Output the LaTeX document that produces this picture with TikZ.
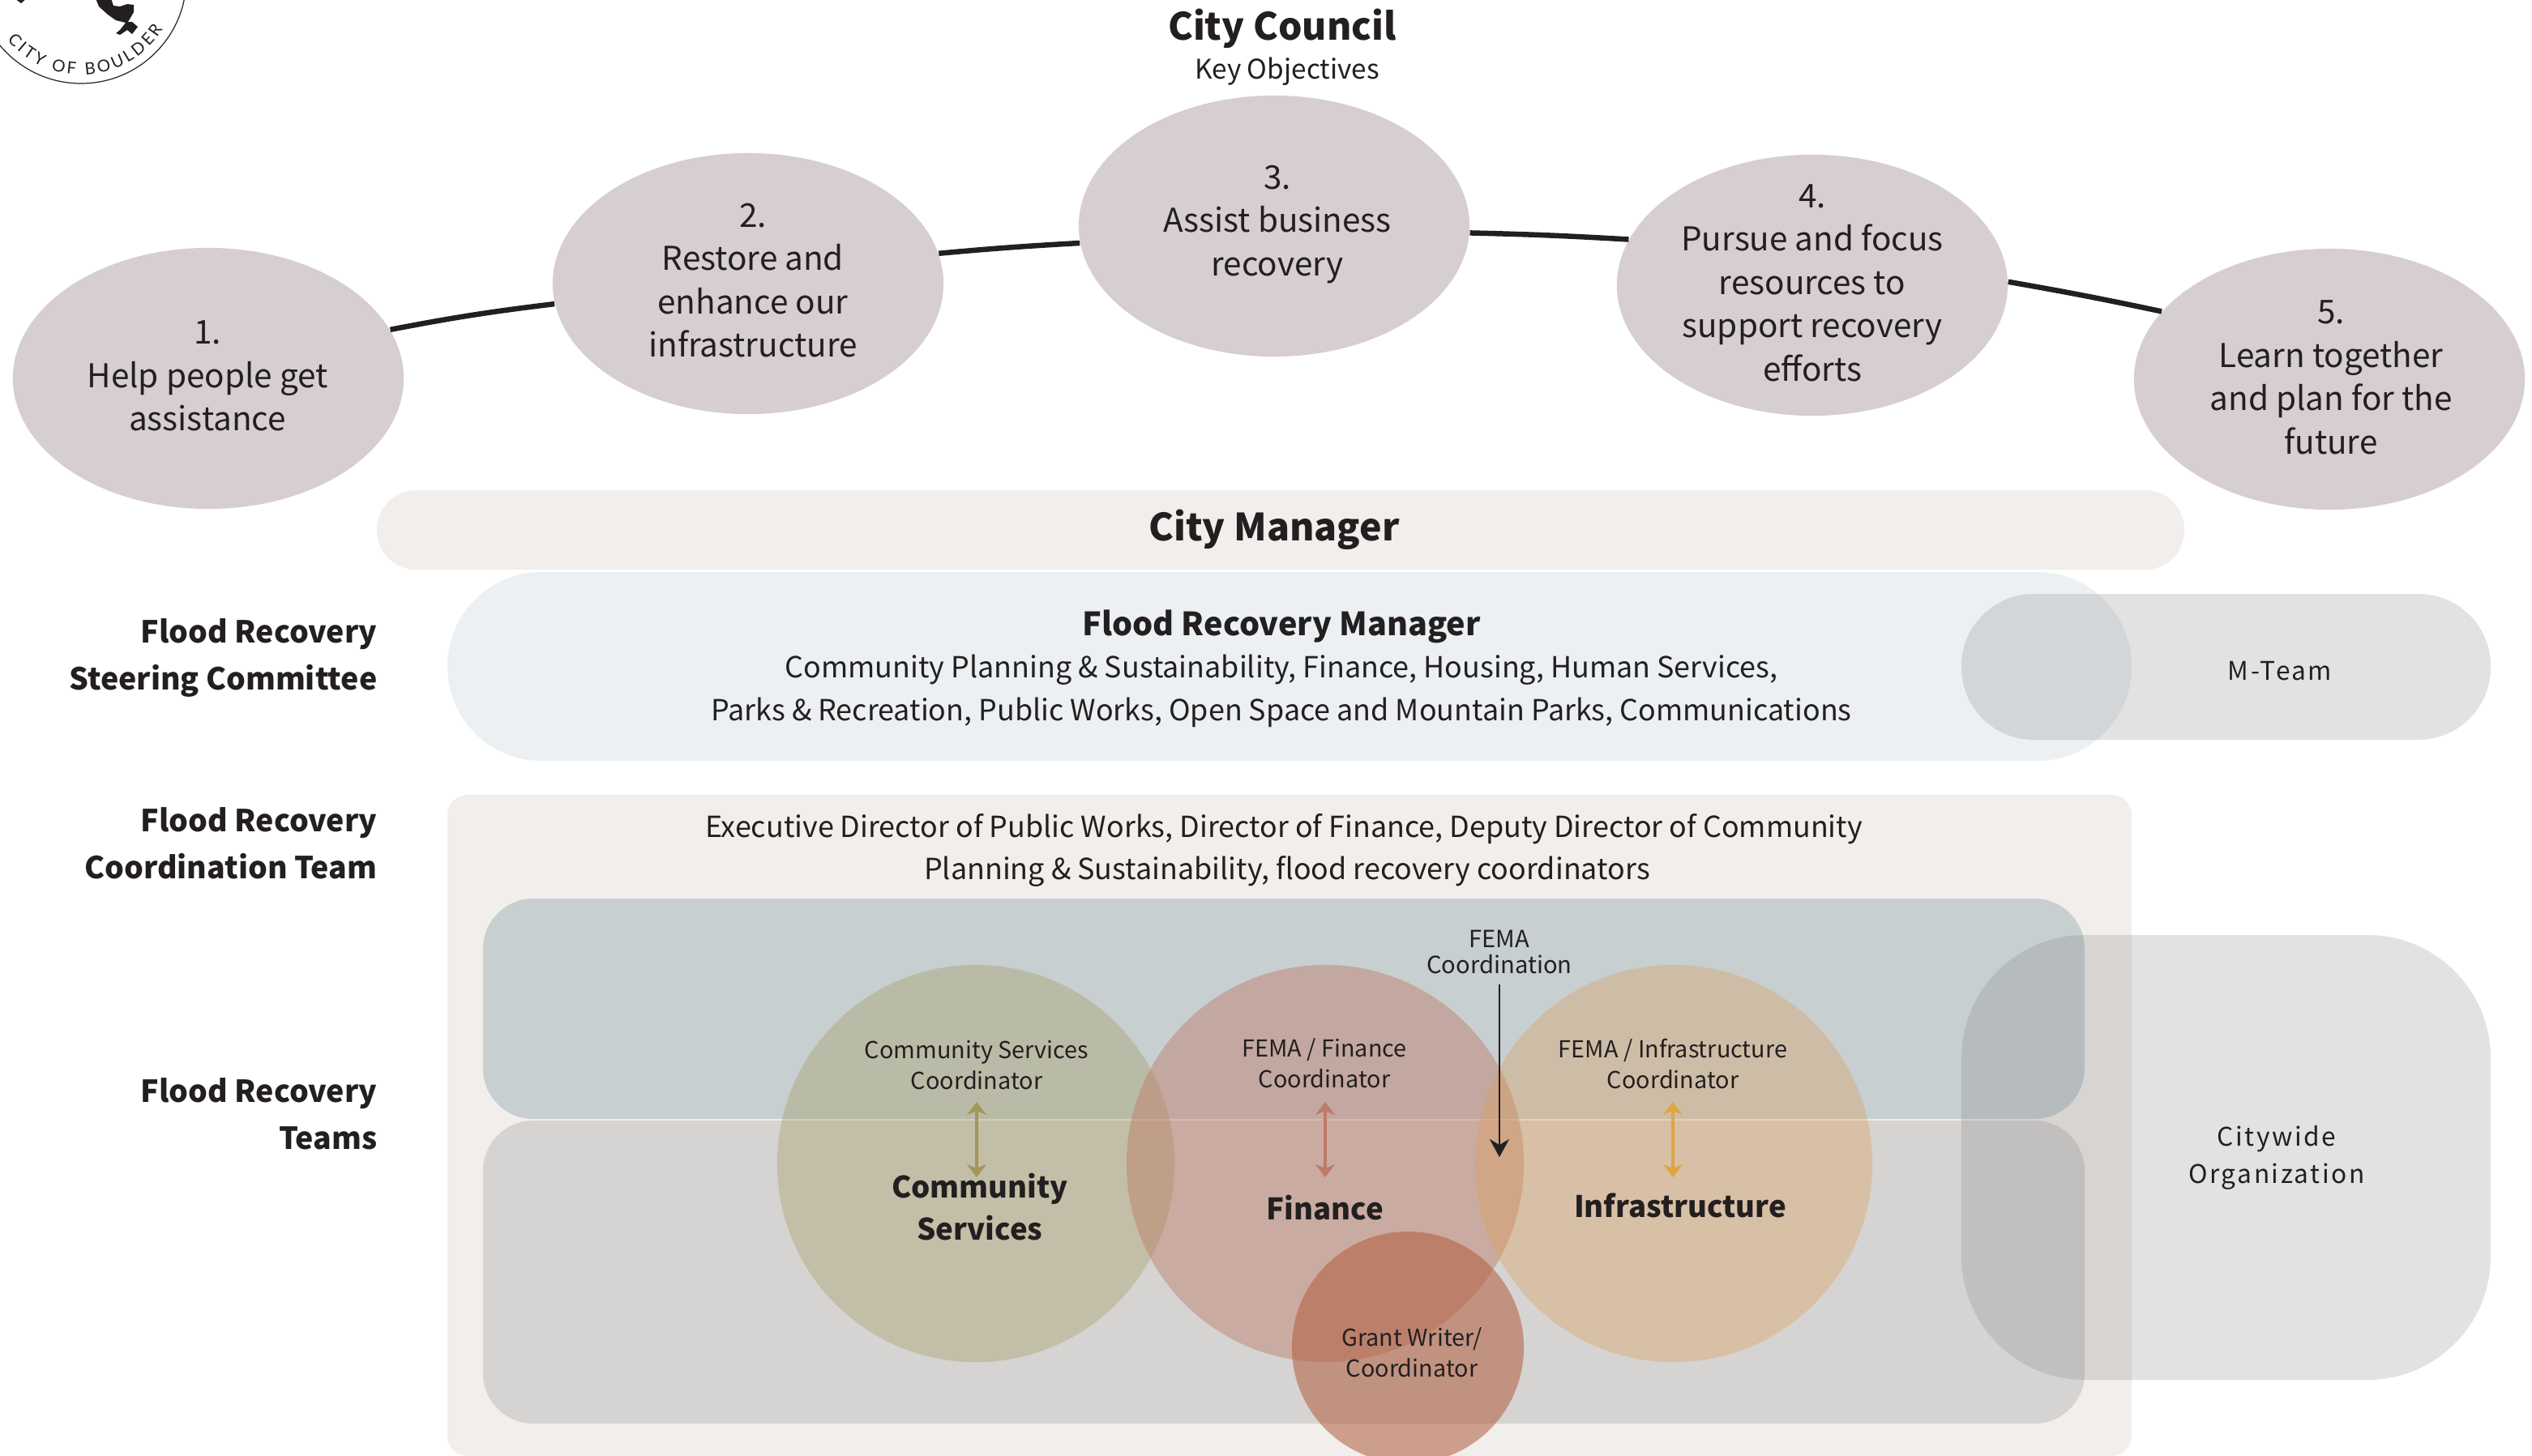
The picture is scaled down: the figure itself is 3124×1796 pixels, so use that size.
\documentclass[tikz,border=0pt]{standalone}
\usepackage{fontspec}
\setmainfont{Noto Sans CJK SC}
\newfontfamily\logofont{Lato}
\usetikzlibrary{shapes.geometric,arrows.meta,decorations.text}
\definecolor{ink}{HTML}{231F20}
\definecolor{oval}{HTML}{D6CECF}
\definecolor{sand}{HTML}{F2EEEB}
\definecolor{frm}{HTML}{ECF0F2}
\definecolor{topband}{HTML}{C7CFD1}
\definecolor{lowband}{HTML}{D5D4D2}
\definecolor{graywash}{HTML}{7F7F80}
\definecolor{csc}{HTML}{A29659}
\definecolor{fin}{HTML}{BE7A66}
\definecolor{inf}{HTML}{DC9D56}
\definecolor{infarrow}{HTML}{DFA63F}
\definecolor{grant}{HTML}{B25D3E}
\tikzset{
  x=0.01cm,y=-0.01cm,
  objective/.style={ellipse,fill=oval,minimum width=4.82cm,minimum height=3.22cm,inner sep=0pt},
  txt/.style={text=ink,align=center,inner sep=0pt,font=\fontsize{10.2}{15}\selectfont},
  objtxt/.style={txt,font=\fontsize{11.5}{15.2}\selectfont},
  bigtxt/.style={txt,font=\fontsize{10.4}{14.8}\bfseries\selectfont},
  headtxt/.style={txt,font=\fontsize{13.2}{16}\bfseries\selectfont},
  subhead/.style={txt,font=\fontsize{11.25}{14}\bfseries\selectfont},
  sidetxt/.style={txt,align=right,anchor=east,font=\fontsize{10.65}{16.5}\bfseries\selectfont},
  smalltxt/.style={txt,font=\fontsize{8.2}{10.8}\selectfont},
  femalabel/.style={txt,font=\fontsize{8.3}{9.1}\selectfont},
  keytxt/.style={txt,font=\fontsize{9.5}{12}\selectfont},
  spaced/.style={txt,font=\fontsize{9}{13}\addfontfeature{LetterSpace=8}\selectfont},
  wash/.style={fill=graywash,fill opacity=0.228},
  bubble/.style={circle,inner sep=0pt,minimum size=4.9cm},
  curve/.style={draw=ink,line width=0.065cm},
  twoway/.style={line width=0.04cm,{Stealth[length=0.16cm,width=0.24cm,inset=0.05cm]}-{Stealth[length=0.16cm,width=0.24cm,inset=0.05cm]}},
}
\begin{document}
\begin{tikzpicture}
\useasboundingbox (0,0) rectangle (3124,1796);
\clip (0,0) rectangle (3124,1796);
% logo
\draw[ink,line width=0.012cm] (100,-27) circle[radius=130];
\fill[ink] (118,-2) -- (122,8) -- (133,18) -- (143,25) -- (155,28) -- (148,37) -- (143,41) -- (148,43) -- (157,37) -- (163,42) -- (170,33) -- (163,27) -- (158,27) -- (165,15) -- (165,6) -- (157,5) -- (148,8) -- (140,7) -- (137,-2) -- cycle;
\fill[ink] (18,-2) -- (33,-2) -- (26,4) -- cycle;
\path[decorate,decoration={text along path,text align=fit to path,raise=0pt,
  text={|\logofont\fontsize{5.8}{6}\selectfont\color{ink}|CITY OF BOULDER}}]
  (100,-27) ++(140:119) arc[start angle=140,end angle=32,radius=119];
% objectives
\node[objective] (e1) at (257,467) {};
\node[objective] (e2) at (923,350) {};
\node[objective] (e3) at (1572,279) {};
\node[objective] (e4) at (2236,352) {};
\node[objective] (e5) at (2874,468) {};
\draw[curve] (e1.15.8) to[bend left=2] (e2.186);
\draw[curve] (e2.9) to[bend left=1] (e3.185);
\draw[curve] (e3.-2.4) to[bend left=1] (e4.166.6);
\draw[curve] (e4.1) to[bend left=1] (e5.158);
\node[headtxt] (council) at (1582,35) {City Council};
\node[keytxt] (keyobj) at (1588,88) {Key Objectives};
\node[objtxt] (t1) at (256,464) {1.\\Help people get\\assistance};
\node[objtxt] (t2) at (929,346) {2.\\Restore and\\enhance our\\infrastructure};
\node[objtxt] (t3) at (1576,277) {3.\\Assist business\\recovery};
\node[objtxt] (t4) at (2236,349) {4.\\Pursue and focus\\resources to\\support recovery\\efforts};
\node[objtxt] (t5) at (2876,466) {5.\\Learn together\\and plan for the\\future};
% bands
\fill[sand,rounded corners=0.48cm] (465,605) rectangle (2695,703);
\fill[frm,rounded corners=1.16cm] (552,706) rectangle (2630,939);
\fill[wash,rounded corners=0.89cm] (2420,733) rectangle (3073,913);
\fill[sand,rounded corners=0.25cm] (552,981) rectangle (2630,1797);
\fill[topband,rounded corners=0.62cm] (596,1109) rectangle (2572,1381);
\fill[lowband,rounded corners=0.62cm] (596,1383) rectangle (2572,1757);
\node[bubble,fill=csc,fill opacity=0.35] (cs) at (1204,1436) {};
\node[bubble,fill=fin,fill opacity=0.45] (fn) at (1635,1436) {};
\node[bubble,fill=inf,fill opacity=0.35] (in) at (2065,1436) {};
\node[circle,inner sep=0pt,minimum size=2.86cm,fill=grant,fill opacity=0.55] (gw) at (1737,1663) {};
\fill[wash,rounded corners=1.52cm] (2420,1154) rectangle (3073,1703);
% labels
\node[headtxt] (mgr) at (1572,654) {City Manager};
\node[subhead] (frmhead) at (1581,773) {Flood Recovery Manager};
\node[txt] (frm1) at (1581,827) {Community Planning \& Sustainability, Finance, Housing, Human Services,};
\node[txt] (frm2) at (1581,879) {Parks \& Recreation, Public Works, Open Space and Mountain Parks, Communications};
\node[spaced] (mteam) at (2813,828) {M-Team};
\node[spaced] (city) at (2809,1429) {Citywide\\Organization};
\node[sidetxt] (s1) at (466,812) {Flood Recovery\\Steering Committee};
\node[sidetxt] (s2) at (466,1041) {Flood Recovery\\Coordination Team};
\node[sidetxt] (s3) at (466,1375) {Flood Recovery\\Teams};
\node[txt] (ex1) at (1584,1023) {Executive Director of Public Works, Director of Finance, Deputy Director of Community};
\node[txt] (ex2) at (1588,1075) {Planning \& Sustainability, flood recovery coordinators};
\node[femalabel] (femac) at (1850,1175) {FEMA\\Coordination};
\node[smalltxt] (csco) at (1205,1314) {Community Services\\Coordinator};
\node[smalltxt] (fnco) at (1634,1312) {FEMA / Finance\\Coordinator};
\node[smalltxt] (inco) at (2064,1313) {FEMA / Infrastructure\\Coordinator};
\node[smalltxt] (gwco) at (1742,1669) {Grant Writer/\\Coordinator};
\node[bigtxt] (cst) at (1209,1490) {Community\\Services};
\node[bigtxt] (fnt) at (1635,1491) {Finance};
\node[bigtxt] (int) at (2073,1488) {Infrastructure};
% arrows
\coordinate (a1) at (1205,1360); \coordinate (a2) at (1205,1453);
\coordinate (b1) at (1635,1360); \coordinate (b2) at (1635,1453);
\coordinate (c1) at (2064,1360); \coordinate (c2) at (2064,1453);
\coordinate (d1) at (1850,1215); \coordinate (d2) at (1850,1428);
\draw[twoway,csc] (a1) -- (a2);
\draw[twoway,fin] (b1) -- (b2);
\draw[twoway,infarrow] (c1) -- (c2);
\draw[ink,line width=0.028cm,-{Stealth[length=0.22cm,width=0.24cm,inset=0.07cm]}] (d1) -- (d2);
\end{tikzpicture}
\end{document}
